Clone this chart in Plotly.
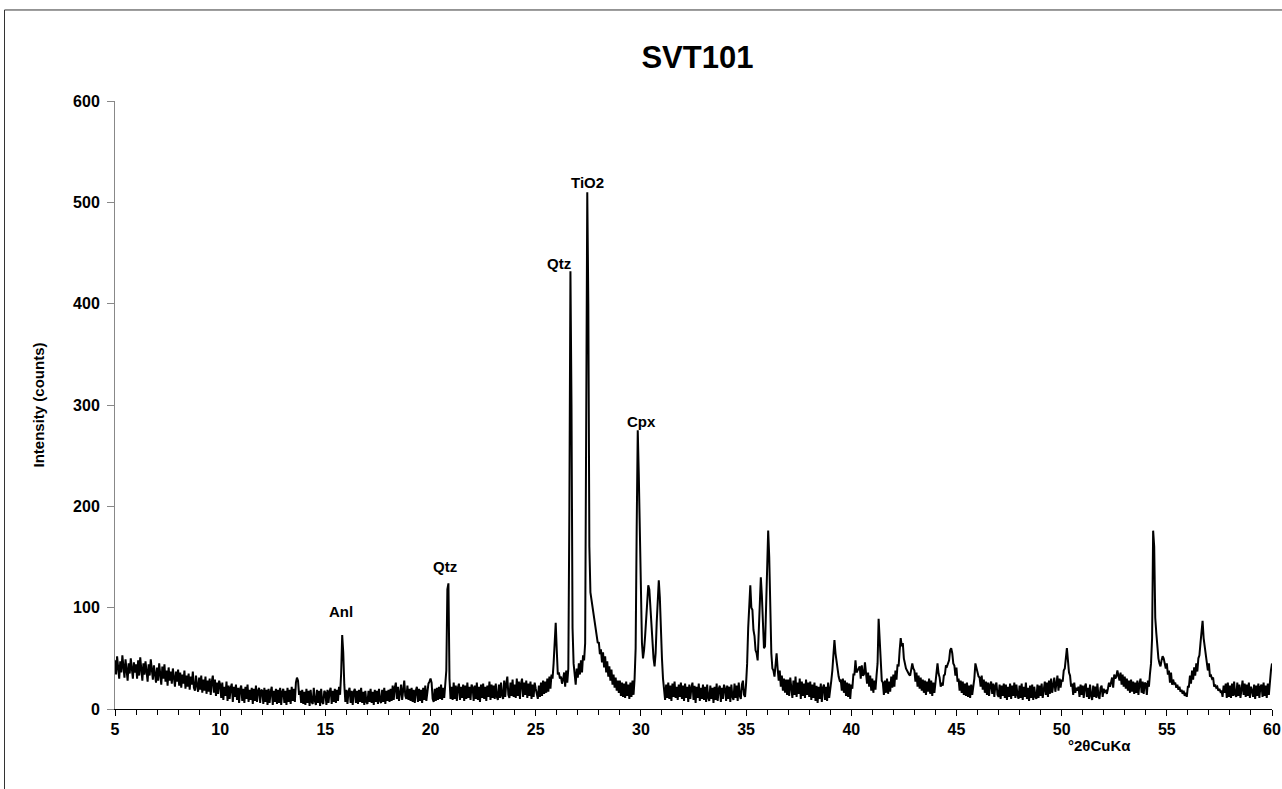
import plotly.graph_objects as go

# Powder XRD scan of sample SVT101, Cu K-alpha, 0.05 degree step.
# Each row holds the 20 counts of one degree (start angle -> counts).
scan_rows = {
    5: [48, 34, 52, 38, 30, 47, 36, 53, 41, 31, 49, 37, 28, 45, 35, 50, 39, 30, 46, 36],
    6: [44, 30, 48, 33, 51, 38, 28, 45, 34, 47, 32, 27, 44, 33, 49, 36, 29, 43, 32, 26],
    7: [41, 28, 45, 32, 24, 42, 30, 44, 27, 38, 23, 41, 28, 37, 25, 40, 29, 22, 37, 27],
    8: [39, 23, 36, 21, 34, 25, 38, 20, 33, 22, 35, 19, 32, 24, 37, 21, 18, 33, 23, 17],
    9: [31, 19, 33, 16, 29, 18, 32, 15, 28, 17, 30, 14, 27, 33, 16, 29, 13, 26, 15, 28],
    10: [24, 11, 26, 9, 22, 13, 27, 8, 23, 10, 21, 25, 7, 22, 12, 24, 9, 21, 6, 20],
    11: [23, 8, 20, 6, 22, 10, 24, 7, 19, 9, 21, 5, 20, 8, 23, 7, 18, 21, 6, 19],
    12: [18, 5, 21, 7, 19, 4, 20, 6, 17, 22, 4, 18, 7, 20, 5, 19, 6, 21, 4, 17],
    13: [20, 6, 18, 4, 21, 7, 19, 5, 22, 8, 20, 7, 26, 31, 28, 14, 18, 6, 19, 5],
    14: [17, 4, 20, 6, 18, 3, 19, 7, 5, 21, 8, 4, 19, 6, 18, 3, 20, 7, 5, 18],
    15: [16, 4, 19, 6, 17, 21, 5, 18, 7, 20, 6, 19, 8, 22, 14, 35, 73, 56, 24, 7],
    16: [19, 5, 17, 21, 6, 18, 4, 17, 20, 6, 18, 5, 19, 7, 21, 6, 17, 4, 18, 7],
    17: [5, 18, 7, 20, 6, 17, 4, 19, 7, 18, 5, 20, 8, 6, 19, 7, 21, 5, 18, 8],
    18: [19, 7, 20, 8, 23, 9, 21, 26, 10, 22, 8, 20, 24, 9, 21, 28, 13, 10, 23, 9],
    19: [20, 8, 21, 7, 19, 6, 18, 22, 7, 20, 8, 19, 6, 21, 9, 23, 8, 20, 25, 27],
    20: [30, 26, 10, 7, 20, 8, 21, 9, 22, 10, 24, 9, 21, 11, 23, 38, 118, 124, 30, 10],
    21: [22, 9, 26, 10, 23, 8, 21, 25, 9, 22, 11, 24, 8, 23, 10, 26, 11, 22, 9, 24],
    22: [21, 8, 23, 10, 26, 9, 22, 7, 24, 11, 25, 10, 22, 8, 23, 12, 27, 9, 24, 11],
    23: [23, 10, 25, 12, 9, 24, 11, 26, 13, 10, 28, 12, 25, 32, 14, 11, 26, 13, 29, 12],
    24: [24, 11, 30, 13, 27, 10, 25, 30, 12, 26, 14, 28, 11, 25, 13, 27, 10, 24, 12, 26],
    25: [20, 16, 10, 23, 12, 26, 13, 28, 15, 27, 16, 30, 17, 32, 20, 34, 30, 45, 70, 85],
    26: [58, 34, 36, 30, 32, 25, 29, 36, 22, 38, 26, 40, 200, 432, 300, 80, 45, 31, 24, 40],
    27: [31, 45, 34, 48, 36, 53, 48, 65, 250, 510, 400, 160, 115, 108, 98, 90, 82, 76, 70, 65],
    28: [66, 54, 59, 46, 56, 41, 52, 36, 47, 32, 42, 28, 39, 24, 34, 21, 31, 18, 28, 16],
    29: [28, 13, 26, 12, 25, 11, 27, 13, 24, 10, 26, 12, 28, 14, 30, 60, 180, 275, 230, 160],
    30: [100, 65, 50, 58, 72, 90, 112, 122, 118, 100, 80, 62, 50, 42, 55, 85, 115, 127, 110, 70],
    31: [50, 30, 22, 9, 24, 11, 26, 10, 23, 8, 25, 12, 27, 11, 22, 9, 24, 12, 26, 10],
    32: [23, 8, 25, 11, 22, 7, 24, 10, 21, 26, 9, 23, 6, 22, 11, 25, 8, 21, 10, 24],
    33: [9, 22, 7, 24, 11, 8, 23, 10, 21, 6, 22, 9, 25, 8, 20, 23, 7, 21, 10, 24],
    34: [20, 8, 23, 10, 22, 7, 24, 12, 9, 25, 11, 23, 8, 26, 13, 10, 24, 28, 14, 12],
    35: [25, 45, 80, 110, 122, 100, 98, 78, 72, 58, 55, 48, 75, 105, 130, 112, 82, 60, 62, 100],
    36: [150, 176, 150, 90, 55, 40, 38, 32, 45, 55, 40, 28, 38, 22, 33, 18, 30, 16, 29, 14],
    37: [29, 13, 31, 16, 11, 28, 14, 32, 12, 26, 15, 30, 10, 27, 13, 25, 11, 29, 14, 26],
    38: [12, 27, 9, 24, 11, 26, 8, 23, 6, 22, 10, 25, 7, 21, 24, 9, 22, 8, 26, 11],
    39: [24, 28, 38, 50, 68, 55, 45, 38, 32, 28, 29, 18, 30, 16, 28, 13, 26, 12, 25, 10],
    40: [24, 20, 34, 34, 48, 36, 38, 40, 42, 30, 43, 33, 34, 46, 38, 25, 36, 22, 33, 18],
    41: [30, 16, 28, 19, 33, 45, 89, 70, 40, 28, 26, 14, 28, 16, 30, 15, 27, 17, 32, 21],
    42: [34, 22, 38, 29, 44, 42, 58, 70, 62, 65, 50, 43, 40, 38, 35, 34, 33, 38, 45, 40],
    43: [38, 27, 36, 22, 33, 20, 31, 18, 29, 16, 28, 14, 27, 17, 30, 15, 28, 13, 26, 16],
    44: [26, 30, 45, 35, 31, 22, 26, 23, 33, 34, 43, 42, 46, 48, 58, 60, 55, 45, 43, 33],
    45: [41, 27, 30, 18, 28, 16, 27, 14, 25, 13, 26, 12, 23, 11, 24, 14, 22, 30, 45, 40],
    46: [35, 32, 31, 22, 33, 19, 29, 16, 27, 14, 26, 13, 24, 27, 15, 25, 12, 23, 26, 14],
    47: [12, 24, 10, 23, 13, 25, 11, 24, 9, 22, 12, 25, 10, 23, 13, 26, 11, 24, 14, 10],
    48: [23, 11, 25, 9, 22, 12, 26, 10, 21, 8, 23, 11, 24, 9, 22, 12, 10, 24, 11, 23],
    49: [13, 25, 11, 23, 27, 14, 26, 12, 28, 15, 30, 16, 27, 31, 17, 29, 33, 18, 30, 21],
    50: [29, 27, 38, 40, 53, 60, 48, 36, 33, 22, 25, 14, 26, 16, 21, 18, 22, 12, 24, 14],
    51: [23, 11, 22, 25, 12, 21, 10, 24, 13, 9, 23, 12, 22, 11, 25, 13, 10, 21, 23, 12],
    52: [20, 17, 18, 15, 20, 26, 22, 26, 31, 21, 34, 30, 32, 38, 34, 28, 36, 24, 34, 22],
    53: [32, 20, 30, 18, 28, 16, 29, 17, 27, 15, 26, 16, 28, 14, 25, 30, 16, 27, 15, 26],
    54: [25, 14, 28, 22, 35, 45, 70, 176, 160, 90, 75, 60, 50, 45, 42, 48, 52, 50, 45, 40],
    55: [45, 34, 38, 26, 36, 24, 29, 25, 26, 21, 24, 19, 22, 17, 19, 15, 18, 13, 16, 12],
    56: [22, 22, 33, 25, 38, 29, 41, 33, 45, 37, 50, 53, 65, 80, 87, 70, 62, 52, 47, 38],
    57: [45, 32, 33, 30, 31, 22, 24, 21, 22, 18, 20, 17, 18, 12, 23, 16, 25, 11, 26, 12],
    58: [23, 11, 25, 13, 27, 14, 12, 26, 13, 24, 11, 23, 28, 14, 25, 12, 24, 13, 26, 11],
    59: [22, 18, 12, 24, 10, 23, 13, 25, 11, 22, 24, 12, 26, 13, 23, 11, 25, 14, 32, 38],
    60: [45],
}
step = 0.05

two_theta = []
intensity = []
for start, counts in scan_rows.items():
    for i, c in enumerate(counts):
        two_theta.append(round(start + i * step, 2))
        intensity.append(c)

# Phase labels placed above their reflections
peak_names = ["Anl", "Qtz", "Qtz", "TiO2", "Cpx"]
peak_label_x = [15.75, 20.7, 26.1, 27.45, 30.05]
peak_label_y = [96, 141, 440, 520, 284]

x_ticks = [5, 10, 15, 20, 25, 30, 35, 40, 45, 50, 55, 60]
y_ticks = [0, 100, 200, 300, 400, 500, 600]

bold = dict(family="Liberation Sans, Arial, sans-serif", size=16, color="black", weight="bold")

fig = go.Figure()
fig.add_trace(go.Scatter(
    x=two_theta, y=intensity, mode="lines",
    line=dict(color="black", width=2),
    showlegend=False, hoverinfo="x+y",
))

for name, lx, ly in zip(peak_names, peak_label_x, peak_label_y):
    fig.add_annotation(x=lx, y=ly, text=name, showarrow=False,
                       font=dict(bold, size=15), xanchor="center", yanchor="middle")

# x-axis caption sits at the lower right under the axis
fig.add_annotation(x=51.8, y=-0.06, xref="x", yref="paper", text="°2θCuKα",
                   showarrow=False, font=dict(bold, size=15),
                   xanchor="center", yanchor="middle")

fig.update_layout(
    width=1282, height=789,
    margin=dict(l=115, r=10, t=101, b=80, autoexpand=False),
    paper_bgcolor="white", plot_bgcolor="white",
    title=dict(text="SVT101", x=0.544, xanchor="center", y=0.927, yanchor="middle",
               font=dict(family="Liberation Sans, Arial, sans-serif",
                         size=31, color="black", weight="bold")),
    xaxis=dict(range=[5, 60], tickvals=x_ticks, ticks="outside", ticklen=6, tickwidth=1,
               tickcolor="black", showline=True, linecolor="black", linewidth=1,
               showgrid=False, zeroline=False, tickfont=bold, automargin=False,
               minor=dict(dtick=1, ticks="outside", ticklen=5, tickcolor="black")),
    yaxis=dict(range=[0, 600], tickvals=y_ticks, ticks="outside", ticklen=7, tickwidth=1,
               tickcolor="#888888", showline=True, linecolor="#888888", linewidth=1,
               showgrid=False, zeroline=False, tickfont=bold, ticklabelstandoff=4,
               automargin=False,
               title=dict(text="Intensity (counts)", font=dict(bold, size=15), standoff=24)),
    shapes=[dict(type="rect", xref="paper", yref="paper",
                 x0=-0.0955, x1=1.02, y0=-0.2, y1=1.1497,
                 line=dict(color="#333333", width=1), fillcolor="rgba(0,0,0,0)")],
)

fig.write_html("out.html")
